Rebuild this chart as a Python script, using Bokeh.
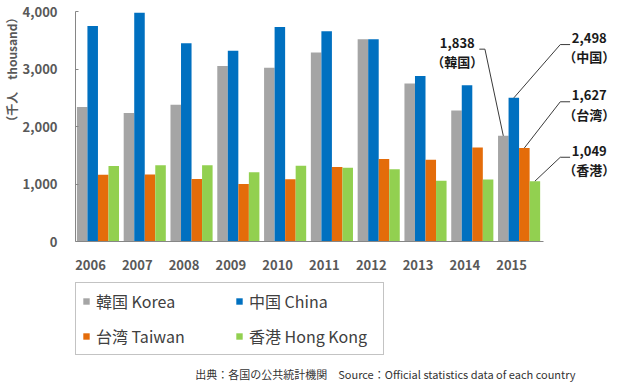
import numpy as np
from bokeh.plotting import figure
from bokeh.layouts import column
from bokeh.models import (Range1d, FixedTicker, NumeralTickFormatter, Legend,
                          LegendItem, Title, Label, ColumnDataSource)
from bokeh.core.properties import value
from bokeh.embed import file_html
from bokeh.resources import INLINE

# ---- data (thousand visitors) ----
years = ["2006", "2007", "2008", "2009", "2010", "2011", "2012", "2013", "2014", "2015"]
korea = [2339, 2236, 2378, 3053, 3023, 3289, 3519, 2747, 2280, 1838]
china = [3746, 3977, 3446, 3317, 3731, 3658, 3518, 2878, 2718, 2498]
taiwan = [1161, 1166, 1087, 1001, 1081, 1294, 1433, 1421, 1634, 1627]
hongkong = [1311, 1324, 1325, 1204, 1317, 1284, 1255, 1057, 1079, 1049]
series_labels = ["韓国 Korea", "中国 China", "台湾 Taiwan", "香港 Hong Kong"]
anno_names = ["（韓国）", "（中国）", "（台湾）", "（香港）"]
y_ticks = [0, 1000, 2000, 3000, 4000]
y_title = "（千人　thousand）"
source_text = "出典：各国の公共統計機関　Source：Official statistics data of each country"

# ---- styles / layout ----
colors = ["#A5A5A5", "#0070C0", "#E46C0A", "#92D050"]
bar_w = 0.225
group_center = 0.48
label_shift = 0.32
FONT = "Noto Sans CJK JP"
GRAY_TXT = "#595959"
W = 624

p = figure(width=W, height=272, output_backend="svg", toolbar_location=None,
           title=None, x_range=Range1d(0, 11.69), y_range=Range1d(0, 4000),
           min_border_left=69, min_border_right=2, min_border_top=11,
           min_border_bottom=29)
p.outline_line_color = None
p.xgrid.visible = False
p.ygrid.visible = False
p.background_fill_color = "white"
p.border_fill_color = "white"

series = [korea, china, taiwan, hongkong]
idx = np.arange(len(years))
for k, (vals, c) in enumerate(zip(series, colors)):
    xs = idx + group_center + (k - 1.5) * bar_w
    src = ColumnDataSource(dict(x=xs, top=vals))
    p.vbar(x="x", top="top", width=bar_w, bottom=0, source=src,
           fill_color=c, line_color=None)

# axes
ticks = [round(i + label_shift, 2) for i in range(len(years))]
p.xaxis.ticker = FixedTicker(ticks=ticks)
p.xaxis.major_label_overrides = {t: y for t, y in zip(ticks, years)}
p.xaxis.bounds = (0, len(years))
p.xaxis.axis_line_color = "#868686"
p.xaxis.major_tick_line_color = None
p.xaxis.minor_tick_line_color = None
p.xaxis.major_label_standoff = 12
p.xaxis.major_label_text_font = FONT
p.xaxis.major_label_text_font_style = "bold"
p.xaxis.major_label_text_font_size = "13px"
p.xaxis.major_label_text_color = GRAY_TXT

p.yaxis.ticker = FixedTicker(ticks=y_ticks)
p.yaxis.formatter = NumeralTickFormatter(format="0,0")
p.yaxis.axis_line_color = "#868686"
p.yaxis.major_tick_line_color = "#868686"
p.yaxis.major_tick_in = 3
p.yaxis.major_tick_out = 0
p.yaxis.minor_tick_line_color = None
p.yaxis.major_label_standoff = 18
p.yaxis.major_label_text_font = FONT
p.yaxis.major_label_text_font_style = "bold"
p.yaxis.major_label_text_font_size = "13px"
p.yaxis.major_label_text_color = GRAY_TXT

p.add_layout(Title(text=y_title, align="right", text_font=FONT,
                   text_font_style="bold", text_font_size="12px",
                   text_color=GRAY_TXT, standoff=0), "left")

# annotations for 2015
last = len(years) - 1
bar_x = [last + group_center + (k - 1.5) * bar_w for k in range(4)]
bar_top = [s[last] for s in series]
text_x = [8.16, 10.98, 10.98, 10.98]
text_y = [3300, 3380, 2385, 1420]
elbow_x = [8.75, 10.36, 10.36, 10.36]
start_x = [8.63, 10.57, 10.57, 10.57]
lead_dy = 45
xs_l, ys_l, labels = [], [], []
for k in range(4):
    ey = text_y[k] + lead_dy
    xs_l.append([start_x[k], elbow_x[k], bar_x[k]])
    ys_l.append([ey, ey, bar_top[k]])
    labels.append(f"{bar_top[k]:,}\n{anno_names[k]}")
p.multi_line(xs=xs_l, ys=ys_l, line_color="#3a3a3a", line_width=1)
p.text(x=text_x, y=text_y, text=labels, text_align="center", text_baseline="middle",
       text_font=value(FONT), text_font_style="bold", text_font_size="13px",
       text_color="#1a1a1a", text_line_height=1.02)

# ---- lower panel: legend + source (frame is aligned with the chart's frame) ----
H2 = 110
p2 = figure(width=W, height=H2, output_backend="svg", toolbar_location=None,
            title=None, x_range=Range1d(0, W), y_range=Range1d(0, H2),
            x_axis_location=None, y_axis_location=None, min_border=0)
p2.grid.visible = False
p2.outline_line_color = None
p2.background_fill_color = "white"
p2.border_fill_color = "white"

# zero-height proxy bars that only carry the legend swatch colours
legend_renderers = [p2.vbar(x=[0], top=[0], bottom=0, width=0, fill_color=c,
                            line_color=None) for c in colors]
order = [0, 2, 1, 3]  # column-major fill -> rows read Korea/China, Taiwan/HK
items = [LegendItem(label=series_labels[i], renderers=[legend_renderers[i]]) for i in order]
legend = Legend(items=items, ncols=2, location=(0, 27), margin=0,
                padding=6, spacing=11, glyph_width=8, glyph_height=8,
                label_standoff=6, label_width=128, label_height=20,
                label_text_font=FONT, label_text_font_size="16px",
                label_text_color="#404040", border_line_color="#888888",
                border_line_width=1, background_fill_color="white")
p2.add_layout(legend, "center")

p2.add_layout(Label(x=500, y=9, x_units="screen", y_units="screen",
                    text=source_text, text_align="right", text_baseline="middle",
                    text_font=FONT, text_font_size="11px", text_color="#333333"))

layout = column(p, p2, spacing=0)
open("out.html", "w").write(file_html(layout, INLINE))
